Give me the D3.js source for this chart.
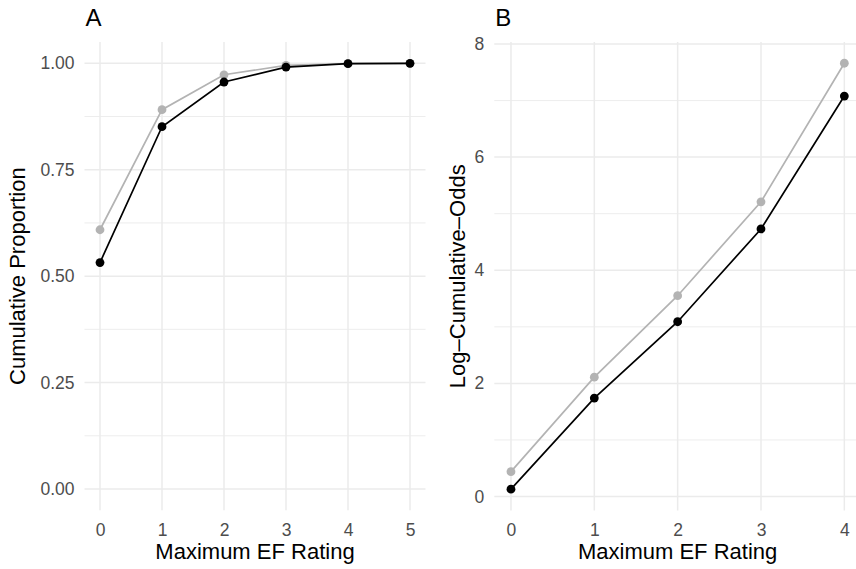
<!DOCTYPE html>
<html>
<head>
<meta charset="utf-8">
<script src="https://cdn.jsdelivr.net/npm/d3@7"></script>
<style>
  html, body { margin: 0; padding: 0; background: #ffffff; }
  svg { display: block; font-family: "Liberation Sans", Arial, Helvetica, sans-serif; }
</style>
</head>
<body>
<svg id="chart" width="856" height="569"></svg>
<script>
// ---- data ----
const ratingsA = [0, 1, 2, 3, 4, 5];
const cumPropBlack = [0.532, 0.851, 0.956, 0.991, 0.999, 1.000];
const cumPropGrey  = [0.609, 0.891, 0.973, 0.995, 0.999, 1.000];
const ratingsB = [0, 1, 2, 3, 4];
const logOddsBlack = [0.13, 1.74, 3.09, 4.73, 7.08];
const logOddsGrey  = [0.44, 2.11, 3.55, 5.21, 7.66];
const yTicksA = [0, 0.25, 0.5, 0.75, 1];
const yMinorA = [0.125, 0.375, 0.625, 0.875];
const yTicksB = [0, 2, 4, 6, 8];
const yMinorB = [1, 3, 5, 7];
const panelTags = ["A", "B"];
const xTitle = "Maximum EF Rating";
const yTitles = ["Cumulative Proportion", "Log\u2013Cumulative\u2013Odds"];

const svg = d3.select("#chart");
const gridCol = "#ebebeb";
const greyCol = "#b3b3b3";

function panel(cfg) {
  const g = svg.append("g");
  const x = d3.scaleLinear().domain(cfg.xDomain).range(cfg.xRange);
  const y = d3.scaleLinear().domain(cfg.yDomain).range(cfg.yRange);
  const [x0, x1] = cfg.xRange;
  const [y0, y1] = cfg.yRange; // y0 bottom, y1 top

  g.selectAll(".ymin").data(cfg.yMinor).join("line")
    .attr("x1", x0).attr("x2", x1)
    .attr("y1", d => y(d)).attr("y2", d => y(d))
    .attr("stroke", gridCol).attr("stroke-width", 0.9);
  g.selectAll(".ymaj").data(cfg.yTicks).join("line")
    .attr("x1", x0).attr("x2", x1)
    .attr("y1", d => y(d)).attr("y2", d => y(d))
    .attr("stroke", gridCol).attr("stroke-width", 1.5);
  g.selectAll(".xmaj").data(cfg.xs).join("line")
    .attr("x1", d => x(d)).attr("x2", d => x(d))
    .attr("y1", y0).attr("y2", y1)
    .attr("stroke", gridCol).attr("stroke-width", 1.5);

  const yAxis = d3.axisLeft(y).tickValues(cfg.yTicks).tickFormat(cfg.yFmt).tickSize(0).tickPadding(10);
  const ya = g.append("g").attr("transform", `translate(${x0},0)`).call(yAxis);
  ya.select(".domain").remove();
  ya.selectAll("text").attr("fill", "#4d4d4d").attr("font-size", 17.5)
    .attr("font-family", "Liberation Sans, Arial, sans-serif");

  const xAxis = d3.axisBottom(x).tickValues(cfg.xs).tickFormat(d3.format("d")).tickSize(0).tickPadding(13);
  const xa = g.append("g").attr("transform", `translate(0,${y0})`).call(xAxis);
  xa.select(".domain").remove();
  xa.selectAll("text").attr("fill", "#4d4d4d").attr("font-size", 17.5)
    .attr("font-family", "Liberation Sans, Arial, sans-serif");

  const line = d3.line().x((d, i) => x(cfg.xs[i])).y(d => y(d));
  cfg.series.forEach(s => {
    g.append("path").datum(s.values)
      .attr("d", line).attr("fill", "none")
      .attr("stroke", s.color).attr("stroke-width", 1.7);
    g.selectAll(null).data(s.values).join("circle")
      .attr("cx", (d, i) => x(cfg.xs[i])).attr("cy", d => y(d))
      .attr("r", 4.4).attr("fill", s.color);
  });

  g.append("text").text(xTitle)
    .attr("x", (x0 + x1) / 2).attr("y", 559)
    .attr("text-anchor", "middle").attr("font-size", 22).attr("fill", "#000");
  g.append("text").text(cfg.yTitle)
    .attr("transform", `translate(${cfg.yTitleX},${(y0 + y1) / 2}) rotate(-90)`)
    .attr("text-anchor", "middle").attr("font-size", 22).attr("fill", "#000");
  g.append("text").text(cfg.tag)
    .attr("x", x0 + 1).attr("y", 26)
    .attr("font-size", 24).attr("fill", "#000");
}

panel({
  xs: ratingsA, xDomain: [-0.25, 5.25], xRange: [84.5, 425.5],
  yDomain: [-0.05, 1.05], yRange: [510.3, 42],
  yTicks: yTicksA, yMinor: yMinorA, yFmt: d3.format(".2f"),
  series: [{ values: cumPropGrey, color: greyCol }, { values: cumPropBlack, color: "#000" }],
  yTitle: yTitles[0], yTitleX: 25, tag: panelTags[0]
});

panel({
  xs: ratingsB, xDomain: [-0.2, 4.2], xRange: [494.3, 861],
  yDomain: [-0.249, 8.037], yRange: [510.6, 41.9],
  yTicks: yTicksB, yMinor: yMinorB, yFmt: d3.format("d"),
  series: [{ values: logOddsGrey, color: greyCol }, { values: logOddsBlack, color: "#000" }],
  yTitle: yTitles[1], yTitleX: 465, tag: panelTags[1]
});
</script>
</body>
</html>
